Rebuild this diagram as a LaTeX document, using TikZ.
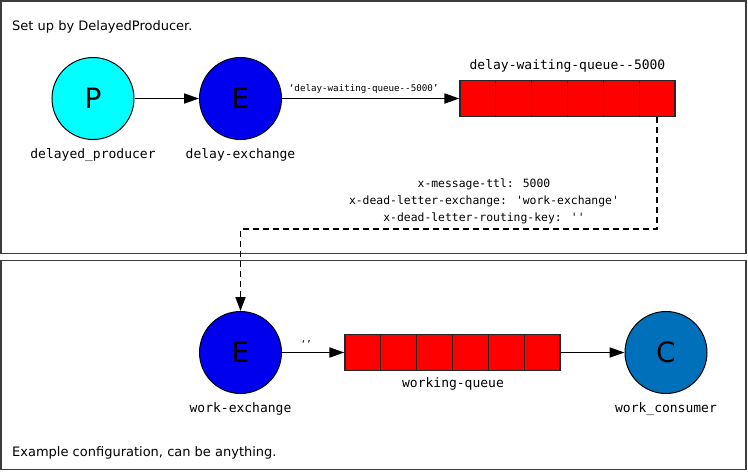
\documentclass[tikz,border=0pt]{standalone}
\usepackage{fontspec}
\setmainfont{DejaVu Sans}
\newfontfamily\monof{DejaVu Sans Mono}
\usetikzlibrary{arrows.meta}
\definecolor{pcyan}{RGB}{0,255,255}
\definecolor{eblue}{RGB}{0,0,238}
\definecolor{cblue}{RGB}{0,112,187}
\definecolor{qred}{RGB}{255,0,0}
\definecolor{framegray}{RGB}{60,60,60}
\tikzset{
  x=1pt,y=-1pt,
  frame/.style={draw=framegray,line width=1.4pt},
  circnode/.style={circle,draw=black,line width=1pt,minimum size=82pt,inner sep=0pt,font=\fontsize{28}{30}\selectfont},
  qcell/.style={rectangle,draw=black!85,line width=1.2pt,fill=qred,minimum width=35.83pt,minimum height=36pt,inner sep=0pt},
  lbl/.style={font=\monof\fontsize{13}{15}\selectfont,inner sep=0pt},
  small/.style={font=\monof\fontsize{9.2}{10}\selectfont,inner sep=0pt},
  args/.style={font=\monof\fontsize{11.4}{17}\selectfont,align=center,inner sep=0pt},
  title/.style={font=\fontsize{13}{15}\selectfont,anchor=west,inner sep=0pt},
  arr/.style={-{Triangle[length=15pt,width=10pt]},line width=1.8pt},
  darr/.style={-{Triangle[length=14pt,width=10pt]},line width=1.9pt,dash pattern=on 6pt off 4pt},
}
\begin{document}
\begin{tikzpicture}
\useasboundingbox (0,0) rectangle (748,472);
\fill[white] (0,0) rectangle (748,472);
% frames
\draw[frame] (1,1) rectangle (746,253.5);
\draw[frame] (1,260.5) rectangle (746,469.5);
\node[title] (t1) at (12,27) {Set up by DelayedProducer.};
\node[title] (t2) at (12,453) {Example configuration, can be anything.};
% top row
\node[circnode,fill=pcyan] (P) at (93,98.5) {P};
\node[circnode,fill=eblue] (E1) at (240.5,98.5) {E};
\node[lbl] (Pl) at (93,155) {delayed\_producer};
\node[lbl] (E1l) at (240.5,155) {delay-exchange};
\foreach \i in {0,...,5}{
  \node[qcell] (qa\i) at ({460+35.83*\i+17.92},98.5) {};
}
\node[lbl] (qal) at (567.5,66) {delay-waiting-queue-{}-5000};
\draw[arr] (P) -- (E1);
\draw[arr] (E1) -- (qa0.west) node[small,midway,above=4pt,xshift=-7pt] (k1) {‘delay-waiting-queue-{}-5000’};
% bottom row
\node[circnode,fill=eblue] (E2) at (240.5,352.5) {E};
\node[circnode,fill=cblue] (C) at (666,352.5) {C};
\foreach \i in {0,...,5}{
  \node[qcell] (qb\i) at ({345+35.83*\i+17.92},352.5) {};
}
\node[lbl] (E2l) at (240.5,409) {work-exchange};
\node[lbl] (Cl) at (666,409) {work\_consumer};
\node[lbl] (qbl) at (453,384) {working-queue};
\draw[arr] (E2) -- (qb0.west) node[small,midway,above=4pt,xshift=-7pt] (k2) {‘’};
\draw[arr] (qb5.east) -- (C);
% dead-letter path
\coordinate (d1) at (qa5.south |- 0,229);
\coordinate (d2) at (240.5,229);
\draw[darr] (qa5.south) -- (d1) -- (d2) -- (E2.north);
\node[args] (dl) at (484,201) {x-message-ttl: 5000\\x-dead-letter-exchange: 'work-exchange'\\x-dead-letter-routing-key: ''};
\end{tikzpicture}
\end{document}
